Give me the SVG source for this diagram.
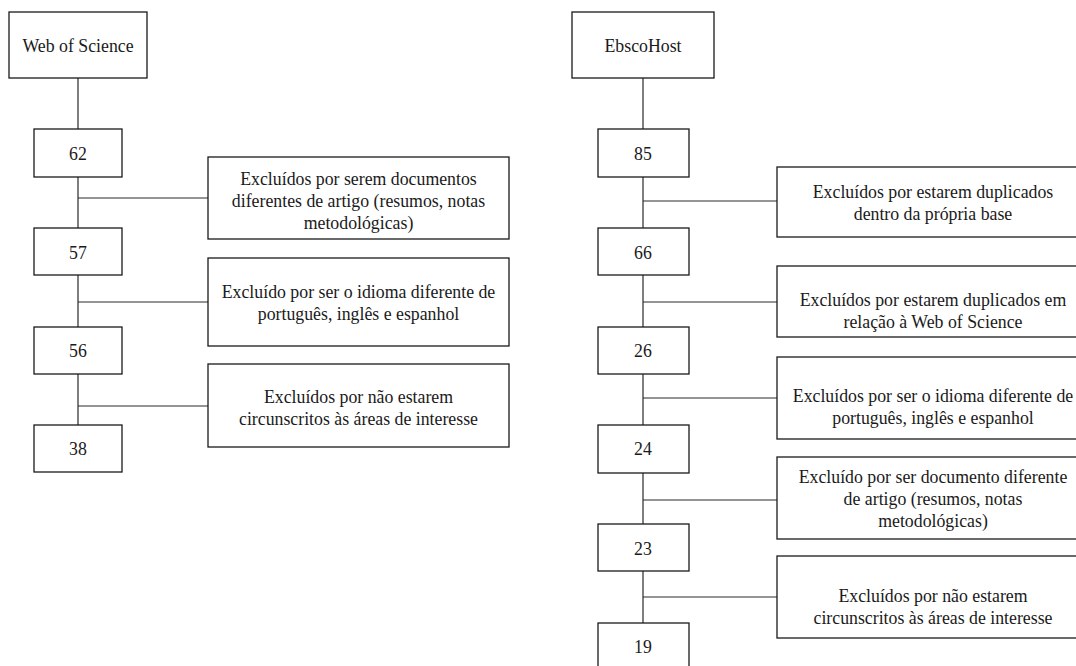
<svg xmlns="http://www.w3.org/2000/svg" width="1076" height="666" viewBox="0 0 1076 666">
<style>
.b{fill:#fff;stroke:#1a1a1a;stroke-width:1.3}
.c{stroke:#2a2a2a;stroke-width:1.2;fill:none}
text{font-family:"Liberation Serif","Times New Roman",serif;font-size:17.8px;fill:#1a1a1a;text-anchor:middle}
</style>
<rect width="1076" height="666" fill="#fff"/>
<g id="connectors">
<path class="c" d="M78 78V129M78 177V228M78 275V327M78 374V425M78 198H208M78 302H208M78 406H208"/>
<path class="c" d="M643 78V129M643 177V228M643 275V327M643 374V425M643 473V524M643 571V623M643 201H777M643 302H777M643 398H777M643 500H777M643 597H777"/>
</g>
<g id="wos"><rect class="b" x="9" y="12" width="138" height="66"/><text x="78" y="52">Web of Science</text></g>
<g id="n62"><rect class="b" x="34" y="129" width="88" height="48"/><text x="78" y="160">62</text></g>
<g id="n57"><rect class="b" x="34" y="228" width="88" height="47"/><text x="78" y="259">57</text></g>
<g id="n56"><rect class="b" x="34" y="327" width="88" height="47"/><text x="78" y="357">56</text></g>
<g id="n38"><rect class="b" x="34" y="425" width="88" height="47"/><text x="78" y="455">38</text></g>
<g id="wx1"><rect class="b" x="208" y="157" width="301" height="82"/><text x="358.5" y="185">Excluídos por serem documentos</text><text x="358.5" y="207">diferentes de artigo (resumos, notas</text><text x="358.5" y="229">metodológicas)</text></g>
<g id="wx2"><rect class="b" x="208" y="258" width="301" height="88"/><text x="358.5" y="298">Excluído por ser o idioma diferente de</text><text x="358.5" y="320">português, inglês e espanhol</text></g>
<g id="wx3"><rect class="b" x="208" y="364" width="301" height="83"/><text x="358.5" y="403">Excluídos por não estarem</text><text x="358.5" y="425">circunscritos às áreas de interesse</text></g>
<g id="ebsco"><rect class="b" x="572" y="12" width="142" height="66"/><text x="643" y="52">EbscoHost</text></g>
<g id="n85"><rect class="b" x="598" y="129" width="91" height="48"/><text x="643" y="160">85</text></g>
<g id="n66"><rect class="b" x="598" y="228" width="91" height="47"/><text x="643" y="259">66</text></g>
<g id="n26"><rect class="b" x="598" y="327" width="91" height="47"/><text x="643" y="357">26</text></g>
<g id="n24"><rect class="b" x="598" y="425" width="91" height="48"/><text x="643" y="455">24</text></g>
<g id="n23"><rect class="b" x="598" y="524" width="91" height="47"/><text x="643" y="555">23</text></g>
<g id="n19"><rect class="b" x="598" y="623" width="91" height="47"/><text x="643" y="653">19</text></g>
<g id="ex1"><rect class="b" x="777" y="167" width="312" height="70"/><text x="933" y="198">Excluídos por estarem duplicados</text><text x="933" y="220">dentro da própria base</text></g>
<g id="ex2"><rect class="b" x="777" y="266" width="312" height="71"/><text x="933" y="306">Excluídos por estarem duplicados em</text><text x="933" y="328">relação à Web of Science</text></g>
<g id="ex3"><rect class="b" x="777" y="357" width="312" height="82"/><text x="933" y="402">Excluídos por ser o idioma diferente de</text><text x="933" y="424">português, inglês e espanhol</text></g>
<g id="ex4"><rect class="b" x="777" y="457" width="312" height="82"/><text x="933" y="483">Excluído por ser documento diferente</text><text x="933" y="505">de artigo (resumos, notas</text><text x="933" y="527">metodológicas)</text></g>
<g id="ex5"><rect class="b" x="777" y="556" width="312" height="82"/><text x="933" y="602">Excluídos por não estarem</text><text x="933" y="624">circunscritos às áreas de interesse</text></g>
</svg>
